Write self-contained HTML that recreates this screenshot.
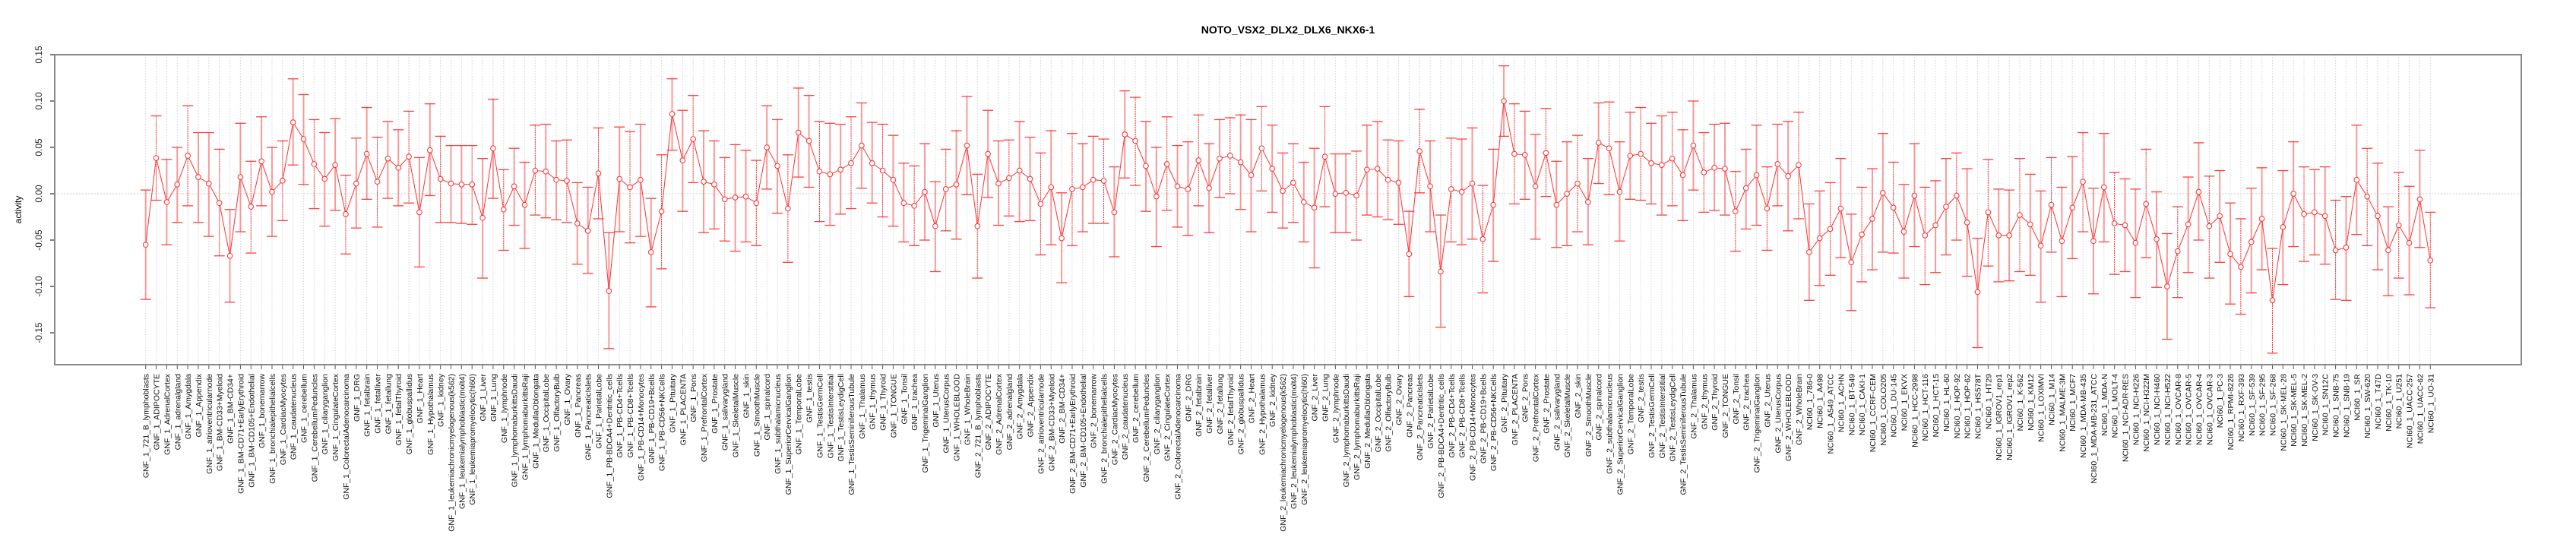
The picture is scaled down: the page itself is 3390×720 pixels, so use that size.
<!DOCTYPE html>
<html><head><meta charset="utf-8"><title>NOTO_VSX2_DLX2_DLX6_NKX6-1</title>
<style>
html,body{margin:0;padding:0;background:#fff;}
svg{display:block;font-family:"Liberation Sans",Arial,sans-serif;}
</style></head>
<body>
<svg id="chart" width="3390" height="720" viewBox="0 0 3390 720" xmlns="http://www.w3.org/2000/svg">
<rect x="0" y="0" width="3390" height="720" fill="#fff"/>
<text x="1695" y="44" text-anchor="middle" font-size="14" font-weight="bold" fill="#000">NOTO_VSX2_DLX2_DLX6_NKX6-1</text>
<text transform="translate(28,276) rotate(-90)" text-anchor="middle" font-size="12" fill="#000">activity</text>
<g id="grid"></g>
<g id="yaxis"></g>
<g id="bars"></g>
<g id="line"></g>
<g id="pts"></g>
<g id="xlabels"></g>
<rect x="72" y="72" width="3246" height="408" fill="none" stroke="#888" stroke-width="2"/>
</svg>
<script>
const tissues = ["721_B_lymphoblasts","ADIPOCYTE","AdrenalCortex","adrenalgland","Amygdala","Appendix","atrioventricularnode","BM-CD33+Myeloid","BM-CD34+","BM-CD71+EarlyErythroid","BM-CD105+Endothelial","bonemarrow","bronchialepithelialcells","CardiacMyocytes","caudatenucleus","cerebellum","CerebellumPeduncles","ciliaryganglion","CingulateCortex","ColorectalAdenocarcinoma","DRG","fetalbrain","fetalliver","fetallung","fetalThyroid","globuspallidus","Heart","Hypothalamus","kidney","leukemiachronicmyelogenous(k562)","leukemialymphoblastic(molt4)","leukemiapromyelocytic(hl60)","Liver","Lung","lymphnode","lymphomaburkittsDaudi","lymphomaburkittsRaji","MedullaOblongata","OccipitalLobe","OlfactoryBulb","Ovary","Pancreas","PancreaticIslets","ParietalLobe","PB-BDCA4+Dentritic_cells","PB-CD4+Tcells","PB-CD8+Tcells","PB-CD14+Monocytes","PB-CD19+Bcells","PB-CD56+NKCells","Pituitary","PLACENTA","Pons","PrefrontalCortex","Prostate","salivarygland","SkeletalMuscle","skin","SmoothMuscle","spinalcord","subthalamicnucleus","SuperiorCervicalGanglion","TemporalLobe","testis","TestisGermCell","TestisInterstitial","TestisLeydigCell","TestisSeminiferousTubule","Thalamus","thymus","Thyroid","TONGUE","Tonsil","trachea","TrigeminalGanglion","Uterus","UterusCorpus","WHOLEBLOOD","WholeBrain"];
const nciLines = ["786-0","A498","A549_ATCC","ACHN","BT-549","CAKI-1","CCRF-CEM","COLO205","DU-145","EKVX","HCC-2998","HCT-116","HCT-15","HL-60","HOP-92","HOP-62","HS578T","HT29","IGROV1_rep1","IGROV1_rep2","K-562","KM12","LOXIMVI","M14","MALME-3M","MCF7","MDA-MB-435","MDA-MB-231_ATCC","MDA-N","MOLT-4","NCI-ADR-RES","NCI-H226","NCI-H322M","NCI-H460","NCI-H522","OVCAR-8","OVCAR-5","OVCAR-4","OVCAR-3","PC-3","RPMI-8226","RXF-393","SF-539","SF-295","SF-268","SK-MEL-28","SK-MEL-5","SK-MEL-2","SK-OV-3","SN12C","SNB-75","SNB-19","SR","SW-620","T47D","TK-10","U251","UACC-257","UACC-62","UO-31"];
const categories = tissues.map(t=>"GNF_1_"+t).concat(tissues.map(t=>"GNF_2_"+t)).concat(nciLines.map(t=>"NCI60_1_"+t));

const values = [
-0.055,0.0385,-0.009,0.010,0.041,0.018,0.011,-0.010,-0.067,0.018,-0.014,0.035,0.002,0.014,0.077,0.059,0.032,0.016,0.031,-0.022,0.011,0.043,0.013,0.038,0.028,
0.040,-0.020,0.047,0.016,0.011,0.010,0.010,-0.026,0.049,-0.017,0.008,-0.012,0.025,0.024,0.015,0.014,-0.032,-0.040,0.022,-0.105,0.016,0.007,0.015,-0.063,-0.019,
0.086,0.036,0.059,0.013,0.010,-0.006,-0.004,-0.003,-0.010,0.050,0.030,-0.016,0.066,0.057,0.024,0.021,0.026,0.033,0.052,0.033,0.025,0.015,-0.010,-0.013,0.002,
-0.035,0.005,0.010,0.052,
-0.035,0.043,0.011,0.017,0.025,0.016,-0.011,0.007,-0.048,0.005,0.007,0.015,0.014,-0.020,0.064,0.057,0.030,-0.003,0.032,0.008,0.005,
0.036,0.006,0.038,0.041,0.034,0.020,0.049,0.027,0.003,0.012,-0.009,-0.015,0.040,0.000,0.001,-0.002,0.026,0.027,0.015,0.012,-0.065,0.046,0.008,-0.084,0.005,
0.002,0.011,-0.049,-0.012,0.100,0.043,0.042,0.008,0.044,-0.012,0.000,0.011,-0.009,0.055,0.049,0.002,0.041,0.043,0.033,0.031,0.038,0.020,0.052,0.023,0.028,
0.027,-0.019,0.006,0.020,-0.016,0.032,0.019,0.031,
-0.063,-0.048,-0.038,-0.016,-0.074,-0.044,-0.027,0.001,-0.015,-0.041,-0.002,-0.045,-0.034,-0.014,-0.002,-0.031,-0.106,
-0.020,-0.045,-0.045,-0.023,-0.033,-0.056,-0.012,-0.051,-0.015,0.013,-0.051,0.007,-0.032,-0.034,-0.053,-0.011,-0.049,-0.100,-0.062,-0.033,0.002,-0.035,-0.024,-0.065,
-0.079,-0.052,-0.027,-0.115,-0.036,0.000,-0.022,-0.020,-0.024,-0.061,-0.058,0.015,-0.003,-0.024,-0.061,-0.034,-0.053,-0.006,-0.072];

const upper = [
0.004,0.084,0.037,0.050,0.095,0.066,0.066,0.048,-0.017,0.076,0.035,0.083,0.050,0.057,0.124,0.107,0.080,0.066,0.081,0.020,0.060,0.093,0.061,0.078,0.069,
0.089,0.039,0.097,0.062,0.052,0.052,0.052,0.038,0.102,0.026,0.049,0.034,0.074,0.075,0.057,0.058,0.012,0.007,0.071,-0.042,0.072,0.067,0.075,-0.005,0.042,
0.124,0.090,0.106,0.068,0.057,0.039,0.053,0.047,0.036,0.095,0.080,0.042,0.114,0.106,0.078,0.076,0.075,0.083,0.098,0.077,0.075,0.063,0.033,0.030,0.054,
0.013,0.048,0.068,0.105,
0.021,0.090,0.057,0.058,0.078,0.061,0.044,0.068,0.001,0.065,0.054,0.062,0.059,0.029,0.111,0.104,0.078,0.050,0.083,0.052,0.056,
0.085,0.054,0.080,0.082,0.085,0.080,0.094,0.074,0.044,0.054,0.034,0.049,0.094,0.043,0.043,0.046,0.074,0.078,0.058,0.057,-0.019,0.091,0.057,-0.023,0.060,
0.059,0.071,0.009,0.048,0.138,0.097,0.089,0.064,0.092,0.035,0.056,0.063,0.038,0.098,0.099,0.056,0.088,0.093,0.076,0.084,0.088,0.069,0.100,0.066,0.075,
0.076,0.024,0.048,0.074,0.029,0.075,0.078,0.088,
-0.011,0.003,0.012,0.038,-0.022,0.007,0.027,0.065,0.034,0.010,0.054,0.007,0.014,0.038,0.044,0.027,-0.048,
0.037,0.005,0.004,0.038,0.021,0.003,0.039,0.007,0.040,0.066,0.006,0.065,0.023,0.016,0.005,0.048,0.002,-0.043,-0.014,0.018,0.055,0.019,0.025,-0.010,
-0.027,0.006,0.028,-0.059,0.025,0.056,0.029,0.026,0.029,-0.007,-0.003,0.074,0.049,0.033,-0.014,0.023,0.008,0.047,-0.020];

const lower = [
-0.114,-0.007,-0.055,-0.031,-0.013,-0.031,-0.046,-0.067,-0.117,-0.041,-0.064,-0.013,-0.046,-0.029,0.031,0.010,-0.016,-0.035,-0.018,-0.065,-0.037,-0.006,-0.036,-0.005,-0.013,
-0.010,-0.079,-0.002,-0.031,-0.031,-0.032,-0.033,-0.091,-0.005,-0.061,-0.034,-0.059,-0.023,-0.026,-0.028,-0.031,-0.076,-0.086,-0.027,-0.167,-0.041,-0.053,-0.046,-0.122,-0.081,
0.047,-0.019,0.012,-0.042,-0.038,-0.051,-0.062,-0.052,-0.056,0.005,-0.021,-0.074,0.018,0.007,-0.030,-0.034,-0.022,-0.016,0.006,-0.010,-0.025,-0.035,-0.052,-0.056,-0.050,
-0.084,-0.040,-0.049,-0.001,
-0.091,-0.004,-0.034,-0.024,-0.030,-0.029,-0.066,-0.055,-0.096,-0.056,-0.041,-0.032,-0.032,-0.068,0.017,0.009,-0.019,-0.057,-0.018,-0.036,-0.045,
-0.013,-0.042,-0.004,0.000,-0.017,-0.041,0.003,-0.020,-0.037,-0.031,-0.052,-0.080,-0.014,-0.042,-0.042,-0.050,-0.023,-0.025,-0.028,-0.033,-0.111,0.001,-0.041,-0.144,-0.052,
-0.055,-0.049,-0.107,-0.073,0.062,-0.011,-0.006,-0.049,-0.003,-0.058,-0.056,-0.041,-0.055,0.011,-0.001,-0.051,-0.006,-0.007,-0.011,-0.023,-0.013,-0.029,0.004,-0.020,-0.018,
-0.023,-0.062,-0.038,-0.034,-0.061,-0.013,-0.040,-0.027,
-0.115,-0.099,-0.088,-0.069,-0.126,-0.095,-0.082,-0.063,-0.064,-0.091,-0.057,-0.098,-0.085,-0.066,-0.050,-0.089,-0.166,
-0.078,-0.095,-0.094,-0.084,-0.088,-0.117,-0.063,-0.111,-0.070,-0.041,-0.108,-0.052,-0.087,-0.084,-0.112,-0.069,-0.101,-0.157,-0.112,-0.085,-0.050,-0.091,-0.074,-0.119,
-0.130,-0.107,-0.082,-0.172,-0.098,-0.057,-0.073,-0.066,-0.076,-0.114,-0.115,-0.044,-0.056,-0.082,-0.110,-0.091,-0.109,-0.058,-0.123];

const yTicks = [0.15,0.10,0.05,0.00,-0.05,-0.10,-0.15];
const yTickLabels = ["0.15","0.10","0.05","0.00","-0.05","-0.10","-0.15"];

const NS = "http://www.w3.org/2000/svg";
const plotL = 72, plotR = 3318, plotT = 72, plotB = 480;
const yMax = 0.15, yMin = -0.1844;
function yScale(v){ return plotT + (yMax - v) / (yMax - yMin) * (plotB - plotT); }
const padX = 119.7;
function xScale(i){ return plotL + padX + i * (plotR - plotL - 2*padX) / (categories.length - 1); }
function mk(tag, attrs, parent){
  const e = document.createElementNS(NS, tag);
  for (const k in attrs) e.setAttribute(k, attrs[k]);
  parent.appendChild(e);
  return e;
}
const gGrid = document.getElementById('grid');
const gY = document.getElementById('yaxis');
const gBars = document.getElementById('bars');
const gLine = document.getElementById('line');
const gPts = document.getElementById('pts');
const gX = document.getElementById('xlabels');

// zero line
const z = mk('line', {x1:plotL, x2:plotR, y1:yScale(0), y2:yScale(0), stroke:'#ccc', 'stroke-width':1, 'stroke-dasharray':'2,2'}, gGrid);



// y axis
const ax = mk('line', {x1:plotL, x2:plotL, y1:yScale(0.15), y2:yScale(-0.15), stroke:'#555', 'stroke-width':2}, gY);


yTicks.forEach((t, k) => {
  const y = yScale(t);
  const tk = mk('line', {x1:plotL-6, x2:plotL, y1:y, y2:y, stroke:'#555', 'stroke-width':1.5}, gY);
  
  
  const tx = mk('text', {transform:`translate(55,${y}) rotate(-90)`, 'text-anchor':'middle', 'font-size':12, fill:'#222'}, gY);
  tx.textContent = yTickLabels[k];
  
  
});

let pathD = '';
categories.forEach((name, i) => {
  const x = xScale(i);
  const gl = mk('line', {x1:x, x2:x, y1:plotT, y2:plotB, stroke:'#d4d4d4', 'stroke-width':1, 'stroke-dasharray':'1.5,2'}, gGrid);
  
  
  const tk = mk('line', {x1:x, x2:x, y1:plotB, y2:plotB+6, stroke:'#555', 'stroke-width':1}, gX);
  
  
  const lb = mk('text', {transform:`translate(${x+4},${plotB+12}) rotate(-90)`, 'text-anchor':'end', 'font-size':10.5, fill:'#111'}, gX);
  lb.textContent = name;
  
  

  const yh = yScale(upper[i]), yl = yScale(lower[i]), yv = yScale(values[i]);
  const pinkish = (i % 3 !== 1);
  const stem = mk('line', {x1:x, x2:x, y1:yh, y2:yl, stroke: pinkish ? 'rgba(255,90,90,0.6)' : '#ff3030', 'stroke-width': pinkish ? 2 : 1, 'stroke-dasharray': pinkish ? 'none' : '2,1'}, gBars);
  
  
  const c1 = mk('line', {x1:x-7, x2:x+7, y1:yh, y2:yh, stroke:'#ff4040', 'stroke-width':1.3}, gBars);
  
  
  const c2 = mk('line', {x1:x-7, x2:x+7, y1:yl, y2:yl, stroke:'#ff4040', 'stroke-width':1.3}, gBars);
  
  

  pathD += (i ? 'L' : 'M') + x.toFixed(1) + ',' + yv.toFixed(1);
  const pt = mk('circle', {cx:x, cy:yv, r:3.3, fill:'#fff', stroke:'#ff2a2a', 'stroke-width':1}, gPts);
  
  
});
const ln = mk('path', {d:pathD, fill:'none', stroke:'#ff3030', 'stroke-width':1}, gLine);


</script>
</body></html>
